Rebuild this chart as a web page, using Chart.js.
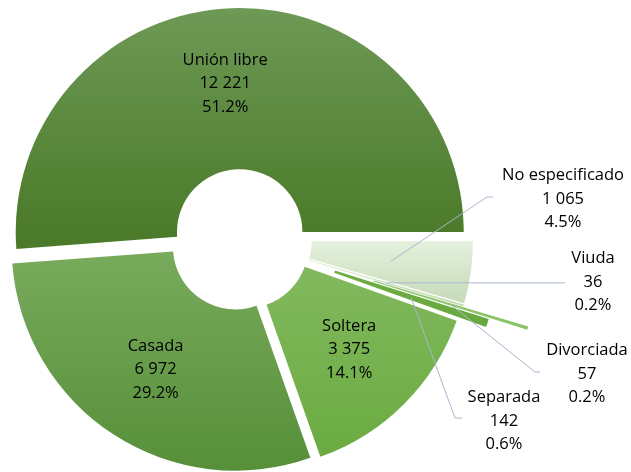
<!DOCTYPE html>
<html>
<head>
<meta charset="utf-8">
<script src="https://cdn.jsdelivr.net/npm/chart.js@4/dist/chart.umd.min.js"></script>
<style>
  html, body { margin: 0; padding: 0; background: #fff; }
  #wrap { width: 631px; height: 472px; position: relative; }
</style>
</head>
<body>
<div id="wrap"><canvas id="estadoCivilChart"></canvas></div>
<script>
// datos
const categories = ['Unión libre', 'No especificado', 'Viuda', 'Divorciada', 'Separada', 'Soltera', 'Casada'];
const counts = [12221, 1065, 36, 57, 142, 3375, 6972];
const percents = ['51.2%', '4.5%', '0.2%', '0.2%', '0.6%', '14.1%', '29.2%'];

// estilo de cada rebanada
const topColors = ['#6e9956', '#e4f0dc', '#d6e8ca', '#93c971', '#70ae46', '#84ba60', '#79ab5d'];
const bottomColors = ['#4b7b2a', '#c3d9b5', '#c2dcb0', '#86c062', '#66a73d', '#69aa3f', '#578f39'];
const gradSpan = [[-1, 0], [0, 0.3], [0, 0.3], [0, 0.45], [0, 0.4], [0, 1], [0, 1]];
const explodePx = [8, 9, 9, 77, 37, 8, 8]; // separacion de cada rebanada

const RADIUS = 224;
const total = counts.reduce((a, b) => a + b, 0);

// etiquetas fuera del anillo: centro del texto y puntos de la linea guia
const outsideLabels = {
    1: { x: 563, y: 199, path: [[487, 197], [493, 197]] },
    2: { x: 593, y: 282, path: [[565, null]] },
    3: { x: 587, y: 374, path: [[535, 372], [540, 372]] },
    4: { x: 504, y: 421, path: [[455, 418], [462, 418]] }
};
const insideNudge = { 0: [-9, -2] };

function fmtNum(n) {
    return n.toString().replace(/\B(?=(\d{3})+(?!\d))/g, ' ');
}

function sliceColor(context) {
    const i = context.dataIndex;
    const chart = context.chart;
    const area = chart.chartArea;
    if (!area) return topColors[i];
    const cy = (area.top + area.bottom) / 2;
    const g = chart.ctx.createLinearGradient(0, cy + gradSpan[i][0] * RADIUS, 0, cy + gradSpan[i][1] * RADIUS);
    g.addColorStop(0, topColors[i]);
    g.addColorStop(1, bottomColors[i]);
    return g;
}

function shiftOf(arc, i) {
    const p = arc.getProps(['startAngle', 'endAngle']);
    const mid = (p.startAngle + p.endAngle) / 2;
    return { mid, dx: Math.cos(mid) * explodePx[i], dy: Math.sin(mid) * explodePx[i] };
}

// rebanadas separadas como en Excel: se traslada cada arco completo
const explodedArcs = {
    id: 'explodedArcs',
    beforeDatasetDraw(chart, args) {
        const ctx = chart.ctx;
        const meta = args.meta;
        meta.data.forEach((arc, i) => {
            const s = shiftOf(arc, i);
            ctx.save();
            ctx.translate(s.dx, s.dy);
            arc.draw(ctx, chart.chartArea);
            ctx.restore();
        });
        return false;
    }
};

const sliceLabels = {
    id: 'sliceLabels',
    afterDatasetsDraw(chart) {
        const ctx = chart.ctx;
        const meta = chart.getDatasetMeta(0);
        ctx.save();
        ctx.font = '16.5px "Open Sans", sans-serif';
        ctx.fillStyle = '#000';
        ctx.textAlign = 'center';
        ctx.textBaseline = 'middle';
        const lineH = 23.5;

        meta.data.forEach((arc, i) => {
            const p = arc.getProps(['x', 'y', 'innerRadius', 'outerRadius']);
            const s = shiftOf(arc, i);
            const cx = p.x + s.dx;
            const cy = p.y + s.dy;
            const lines = [categories[i], fmtNum(counts[i]), percents[i]];

            let tx, ty;
            const out = outsideLabels[i];
            if (out) {
                const r = (p.innerRadius + p.outerRadius) / 2;
                const ax = cx + Math.cos(s.mid) * r;
                const ay = cy + Math.sin(s.mid) * r;
                ctx.beginPath();
                ctx.strokeStyle = '#a9b7cf';
                ctx.lineWidth = 1;
                ctx.moveTo(ax, ay);
                out.path.forEach(pt => ctx.lineTo(pt[0], pt[1] === null ? ay : pt[1]));
                ctx.stroke();
                tx = out.x;
                ty = out.y;
            } else {
                const r = p.innerRadius + 0.52 * (p.outerRadius - p.innerRadius);
                const n = insideNudge[i] || [0, 0];
                tx = cx + Math.cos(s.mid) * r + n[0];
                ty = cy + Math.sin(s.mid) * r + n[1];
            }
            lines.forEach((t, k) => ctx.fillText(t, tx, ty + (k - 1) * lineH));
        });
        ctx.restore();
    }
};

new Chart(document.getElementById('estadoCivilChart'), {
    type: 'doughnut',
    data: {
        labels: categories,
        datasets: [{
            data: counts,
            backgroundColor: sliceColor,
            borderWidth: 0,
            offset: 0,
            hoverOffset: 0
        }]
    },
    options: {
        responsive: true,
        maintainAspectRatio: false,
        animation: false,
        events: [],
        radius: RADIUS,
        cutout: '28%',
        rotation: 90 - counts[0] / total * 360,
        layout: { padding: { left: 0, right: 151, top: 8, bottom: 0 } },
        plugins: {
            legend: { display: false },
            tooltip: { enabled: false }
        }
    },
    plugins: [explodedArcs, sliceLabels]
});
</script>
</body>
</html>
